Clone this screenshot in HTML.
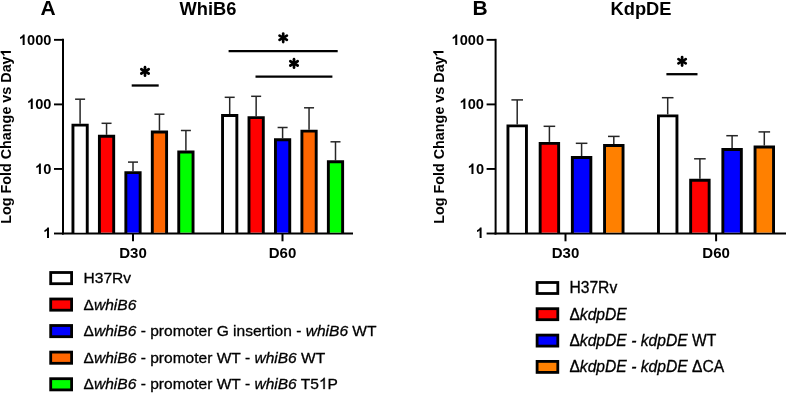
<!DOCTYPE html><html><head><meta charset="utf-8"><style>html,body{margin:0;padding:0;background:#fff;}svg{display:block;will-change:transform}text{font-family:"Liberation Sans",sans-serif}.tk{font-size:14.6px;font-weight:bold}.xl{font-size:15.0px;font-weight:bold}.yl{font-size:14.35px;font-weight:bold}.ti{font-size:18.3px;font-weight:bold}.pl{font-size:21px;font-weight:bold}.lg{font-size:15.55px;stroke:#000;stroke-width:0.3px}</style></head><body>
<svg width="786" height="393" viewBox="0 0 786 393">
<rect width="786" height="393" fill="#fff"/>
<text x="40.6" y="15.0" class="pl">A</text>
<text x="208" y="14.5" text-anchor="middle" class="ti">WhiB6</text>
<text x="472.4" y="15.0" class="pl">B</text>
<text x="641" y="14.6" text-anchor="middle" class="ti">KdpDE</text>
<line x1="63" y1="38.85" x2="63" y2="234.5" stroke="#000" stroke-width="2"/>
<line x1="54" y1="39.85" x2="63" y2="39.85" stroke="#000" stroke-width="1.9"/>
<text x="51.40" y="45" text-anchor="end" class="tk">&#x2007;000</text>
<path transform="translate(19.23,45.00) scale(0.007129,-0.007129)" d="M760 0H479V1059Q325 915 117 846V1101Q226 1137 354 1236T530 1466H760Z"/>
<line x1="54" y1="104.40" x2="63" y2="104.40" stroke="#000" stroke-width="1.9"/>
<text x="51.40" y="109" text-anchor="end" class="tk">&#x2007;00</text>
<path transform="translate(27.35,109.00) scale(0.007129,-0.007129)" d="M760 0H479V1059Q325 915 117 846V1101Q226 1137 354 1236T530 1466H760Z"/>
<line x1="54" y1="168.95" x2="63" y2="168.95" stroke="#000" stroke-width="1.9"/>
<text x="51.40" y="174" text-anchor="end" class="tk">&#x2007;0</text>
<path transform="translate(35.46,174.00) scale(0.007129,-0.007129)" d="M760 0H479V1059Q325 915 117 846V1101Q226 1137 354 1236T530 1466H760Z"/>
<line x1="54" y1="233.50" x2="63" y2="233.50" stroke="#000" stroke-width="1.9"/>
<text x="51.40" y="238" text-anchor="end" class="tk">&#x2007;</text>
<path transform="translate(43.58,238.00) scale(0.007129,-0.007129)" d="M760 0H479V1059Q325 915 117 846V1101Q226 1137 354 1236T530 1466H760Z"/>
<line x1="62" y1="233.5" x2="353" y2="233.5" stroke="#000" stroke-width="2"/>
<line x1="133" y1="233.5" x2="133" y2="241.3" stroke="#000" stroke-width="2"/>
<text x="133" y="257.9" text-anchor="middle" class="xl">D30</text>
<line x1="282.5" y1="233.5" x2="282.5" y2="241.3" stroke="#000" stroke-width="2"/>
<text x="282.5" y="257.9" text-anchor="middle" class="xl">D60</text>
<g transform="translate(10.9,136.1) rotate(-90)">
<text x="0" y="0" text-anchor="middle" class="yl">Log Fold Change vs Day&#x2007;</text>
<path transform="translate(79.73,0.00) scale(0.007007,-0.007007)" d="M760 0H479V1059Q325 915 117 846V1101Q226 1137 354 1236T530 1466H760Z"/>
</g>
<line x1="80.10" y1="123.70" x2="80.10" y2="99.20" stroke="#262626" stroke-width="1.5"/>
<line x1="75.10" y1="99.20" x2="85.10" y2="99.20" stroke="#262626" stroke-width="1.5"/>
<path d="M72.95 232.50V125.15H87.25V232.50Z" fill="#ffffff" stroke="none"/>
<path d="M72.95 233.50V125.15H87.25V233.50" fill="none" stroke="#000" stroke-width="2.9"/>
<line x1="106.55" y1="134.80" x2="106.55" y2="123.30" stroke="#262626" stroke-width="1.5"/>
<line x1="101.55" y1="123.30" x2="111.55" y2="123.30" stroke="#262626" stroke-width="1.5"/>
<path d="M99.40 232.50V136.25H113.70V232.50Z" fill="#ff0000" stroke="none"/>
<path d="M99.40 233.50V136.25H113.70V233.50" fill="none" stroke="#000" stroke-width="2.9"/>
<line x1="133.00" y1="171.20" x2="133.00" y2="162.10" stroke="#262626" stroke-width="1.5"/>
<line x1="128.00" y1="162.10" x2="138.00" y2="162.10" stroke="#262626" stroke-width="1.5"/>
<path d="M125.85 232.50V172.65H140.15V232.50Z" fill="#0000ff" stroke="none"/>
<path d="M125.85 233.50V172.65H140.15V233.50" fill="none" stroke="#000" stroke-width="2.9"/>
<line x1="159.45" y1="130.50" x2="159.45" y2="114.20" stroke="#262626" stroke-width="1.5"/>
<line x1="154.45" y1="114.20" x2="164.45" y2="114.20" stroke="#262626" stroke-width="1.5"/>
<path d="M152.30 232.50V131.95H166.60V232.50Z" fill="#ff6600" stroke="none"/>
<path d="M152.30 233.50V131.95H166.60V233.50" fill="none" stroke="#000" stroke-width="2.9"/>
<line x1="185.90" y1="150.50" x2="185.90" y2="130.50" stroke="#262626" stroke-width="1.5"/>
<line x1="180.90" y1="130.50" x2="190.90" y2="130.50" stroke="#262626" stroke-width="1.5"/>
<path d="M178.75 232.50V151.95H193.05V232.50Z" fill="#00ff00" stroke="none"/>
<path d="M178.75 233.50V151.95H193.05V233.50" fill="none" stroke="#000" stroke-width="2.9"/>
<line x1="229.70" y1="114.10" x2="229.70" y2="97.30" stroke="#262626" stroke-width="1.5"/>
<line x1="224.70" y1="97.30" x2="234.70" y2="97.30" stroke="#262626" stroke-width="1.5"/>
<path d="M222.55 232.50V115.55H236.85V232.50Z" fill="#ffffff" stroke="none"/>
<path d="M222.55 233.50V115.55H236.85V233.50" fill="none" stroke="#000" stroke-width="2.9"/>
<line x1="256.15" y1="116.20" x2="256.15" y2="96.30" stroke="#262626" stroke-width="1.5"/>
<line x1="251.15" y1="96.30" x2="261.15" y2="96.30" stroke="#262626" stroke-width="1.5"/>
<path d="M249.00 232.50V117.65H263.30V232.50Z" fill="#ff0000" stroke="none"/>
<path d="M249.00 233.50V117.65H263.30V233.50" fill="none" stroke="#000" stroke-width="2.9"/>
<line x1="282.60" y1="138.30" x2="282.60" y2="127.50" stroke="#262626" stroke-width="1.5"/>
<line x1="277.60" y1="127.50" x2="287.60" y2="127.50" stroke="#262626" stroke-width="1.5"/>
<path d="M275.45 232.50V139.75H289.75V232.50Z" fill="#0000ff" stroke="none"/>
<path d="M275.45 233.50V139.75H289.75V233.50" fill="none" stroke="#000" stroke-width="2.9"/>
<line x1="309.05" y1="129.70" x2="309.05" y2="107.80" stroke="#262626" stroke-width="1.5"/>
<line x1="304.05" y1="107.80" x2="314.05" y2="107.80" stroke="#262626" stroke-width="1.5"/>
<path d="M301.90 232.50V131.15H316.20V232.50Z" fill="#ff6600" stroke="none"/>
<path d="M301.90 233.50V131.15H316.20V233.50" fill="none" stroke="#000" stroke-width="2.9"/>
<line x1="335.50" y1="160.30" x2="335.50" y2="141.80" stroke="#262626" stroke-width="1.5"/>
<line x1="330.50" y1="141.80" x2="340.50" y2="141.80" stroke="#262626" stroke-width="1.5"/>
<path d="M328.35 232.50V161.75H342.65V232.50Z" fill="#00ff00" stroke="none"/>
<path d="M328.35 233.50V161.75H342.65V233.50" fill="none" stroke="#000" stroke-width="2.9"/>
<line x1="131.7" y1="85.5" x2="158.7" y2="85.5" stroke="#000" stroke-width="2.3"/>
<line x1="145.00" y1="67.15" x2="145.00" y2="75.65" stroke="#000" stroke-width="2.7" stroke-linecap="round"/>
<line x1="141.32" y1="69.28" x2="148.68" y2="73.53" stroke="#000" stroke-width="2.7" stroke-linecap="round"/>
<line x1="141.32" y1="73.53" x2="148.68" y2="69.28" stroke="#000" stroke-width="2.7" stroke-linecap="round"/>
<line x1="228.6" y1="51.1" x2="337.7" y2="51.1" stroke="#000" stroke-width="2.3"/>
<line x1="283.20" y1="33.55" x2="283.20" y2="42.05" stroke="#000" stroke-width="2.7" stroke-linecap="round"/>
<line x1="279.52" y1="35.67" x2="286.88" y2="39.92" stroke="#000" stroke-width="2.7" stroke-linecap="round"/>
<line x1="279.52" y1="39.92" x2="286.88" y2="35.67" stroke="#000" stroke-width="2.7" stroke-linecap="round"/>
<line x1="255.5" y1="76.6" x2="332.4" y2="76.6" stroke="#000" stroke-width="2.3"/>
<line x1="294.00" y1="59.15" x2="294.00" y2="67.65" stroke="#000" stroke-width="2.7" stroke-linecap="round"/>
<line x1="290.32" y1="61.27" x2="297.68" y2="65.52" stroke="#000" stroke-width="2.7" stroke-linecap="round"/>
<line x1="290.32" y1="65.52" x2="297.68" y2="61.27" stroke="#000" stroke-width="2.7" stroke-linecap="round"/>
<line x1="495.6" y1="38.85" x2="495.6" y2="234.5" stroke="#000" stroke-width="2"/>
<line x1="486.6" y1="39.85" x2="495.6" y2="39.85" stroke="#000" stroke-width="1.9"/>
<text x="484.00" y="45" text-anchor="end" class="tk">&#x2007;000</text>
<path transform="translate(451.83,45.00) scale(0.007129,-0.007129)" d="M760 0H479V1059Q325 915 117 846V1101Q226 1137 354 1236T530 1466H760Z"/>
<line x1="486.6" y1="104.40" x2="495.6" y2="104.40" stroke="#000" stroke-width="1.9"/>
<text x="484.00" y="109" text-anchor="end" class="tk">&#x2007;00</text>
<path transform="translate(459.95,109.00) scale(0.007129,-0.007129)" d="M760 0H479V1059Q325 915 117 846V1101Q226 1137 354 1236T530 1466H760Z"/>
<line x1="486.6" y1="168.95" x2="495.6" y2="168.95" stroke="#000" stroke-width="1.9"/>
<text x="484.00" y="174" text-anchor="end" class="tk">&#x2007;0</text>
<path transform="translate(468.06,174.00) scale(0.007129,-0.007129)" d="M760 0H479V1059Q325 915 117 846V1101Q226 1137 354 1236T530 1466H760Z"/>
<line x1="486.6" y1="233.50" x2="495.6" y2="233.50" stroke="#000" stroke-width="1.9"/>
<text x="484.00" y="238" text-anchor="end" class="tk">&#x2007;</text>
<path transform="translate(476.18,238.00) scale(0.007129,-0.007129)" d="M760 0H479V1059Q325 915 117 846V1101Q226 1137 354 1236T530 1466H760Z"/>
<line x1="494.6" y1="233.5" x2="786" y2="233.5" stroke="#000" stroke-width="2"/>
<line x1="565.5" y1="233.5" x2="565.5" y2="241.3" stroke="#000" stroke-width="2"/>
<text x="565.5" y="257.9" text-anchor="middle" class="xl">D30</text>
<line x1="716.1" y1="233.5" x2="716.1" y2="241.3" stroke="#000" stroke-width="2"/>
<text x="716.1" y="257.9" text-anchor="middle" class="xl">D60</text>
<g transform="translate(443.5,136.1) rotate(-90)">
<text x="0" y="0" text-anchor="middle" class="yl">Log Fold Change vs Day&#x2007;</text>
<path transform="translate(79.73,0.00) scale(0.007007,-0.007007)" d="M760 0H479V1059Q325 915 117 846V1101Q226 1137 354 1236T530 1466H760Z"/>
</g>
<line x1="517.20" y1="124.40" x2="517.20" y2="99.90" stroke="#262626" stroke-width="1.5"/>
<line x1="511.40" y1="99.90" x2="523.00" y2="99.90" stroke="#262626" stroke-width="1.5"/>
<path d="M507.95 232.50V125.85H526.45V232.50Z" fill="#ffffff" stroke="none"/>
<path d="M507.95 233.50V125.85H526.45V233.50" fill="none" stroke="#000" stroke-width="2.9"/>
<line x1="549.40" y1="141.90" x2="549.40" y2="126.30" stroke="#262626" stroke-width="1.5"/>
<line x1="543.60" y1="126.30" x2="555.20" y2="126.30" stroke="#262626" stroke-width="1.5"/>
<path d="M540.15 232.50V143.35H558.65V232.50Z" fill="#ff0000" stroke="none"/>
<path d="M540.15 233.50V143.35H558.65V233.50" fill="none" stroke="#000" stroke-width="2.9"/>
<line x1="581.60" y1="156.00" x2="581.60" y2="143.30" stroke="#262626" stroke-width="1.5"/>
<line x1="575.80" y1="143.30" x2="587.40" y2="143.30" stroke="#262626" stroke-width="1.5"/>
<path d="M572.35 232.50V157.45H590.85V232.50Z" fill="#0000ff" stroke="none"/>
<path d="M572.35 233.50V157.45H590.85V233.50" fill="none" stroke="#000" stroke-width="2.9"/>
<line x1="613.80" y1="144.10" x2="613.80" y2="136.40" stroke="#262626" stroke-width="1.5"/>
<line x1="608.00" y1="136.40" x2="619.60" y2="136.40" stroke="#262626" stroke-width="1.5"/>
<path d="M604.55 232.50V145.55H623.05V232.50Z" fill="#ff8000" stroke="none"/>
<path d="M604.55 233.50V145.55H623.05V233.50" fill="none" stroke="#000" stroke-width="2.9"/>
<line x1="667.70" y1="114.40" x2="667.70" y2="97.70" stroke="#262626" stroke-width="1.5"/>
<line x1="661.90" y1="97.70" x2="673.50" y2="97.70" stroke="#262626" stroke-width="1.5"/>
<path d="M658.45 232.50V115.85H676.95V232.50Z" fill="#ffffff" stroke="none"/>
<path d="M658.45 233.50V115.85H676.95V233.50" fill="none" stroke="#000" stroke-width="2.9"/>
<line x1="699.90" y1="178.80" x2="699.90" y2="158.80" stroke="#262626" stroke-width="1.5"/>
<line x1="694.10" y1="158.80" x2="705.70" y2="158.80" stroke="#262626" stroke-width="1.5"/>
<path d="M690.65 232.50V180.25H709.15V232.50Z" fill="#ff0000" stroke="none"/>
<path d="M690.65 233.50V180.25H709.15V233.50" fill="none" stroke="#000" stroke-width="2.9"/>
<line x1="732.10" y1="148.00" x2="732.10" y2="135.70" stroke="#262626" stroke-width="1.5"/>
<line x1="726.30" y1="135.70" x2="737.90" y2="135.70" stroke="#262626" stroke-width="1.5"/>
<path d="M722.85 232.50V149.45H741.35V232.50Z" fill="#0000ff" stroke="none"/>
<path d="M722.85 233.50V149.45H741.35V233.50" fill="none" stroke="#000" stroke-width="2.9"/>
<line x1="764.30" y1="145.50" x2="764.30" y2="131.90" stroke="#262626" stroke-width="1.5"/>
<line x1="758.50" y1="131.90" x2="770.10" y2="131.90" stroke="#262626" stroke-width="1.5"/>
<path d="M755.05 232.50V146.95H773.55V232.50Z" fill="#ff8000" stroke="none"/>
<path d="M755.05 233.50V146.95H773.55V233.50" fill="none" stroke="#000" stroke-width="2.9"/>
<line x1="666.4" y1="74.2" x2="697.5" y2="74.2" stroke="#000" stroke-width="2.3"/>
<line x1="682.10" y1="57.05" x2="682.10" y2="65.55" stroke="#000" stroke-width="2.7" stroke-linecap="round"/>
<line x1="678.42" y1="59.17" x2="685.78" y2="63.42" stroke="#000" stroke-width="2.7" stroke-linecap="round"/>
<line x1="678.42" y1="63.42" x2="685.78" y2="59.17" stroke="#000" stroke-width="2.7" stroke-linecap="round"/>
<rect x="50.70" y="272.50" width="20.90" height="11.20" fill="#ffffff" stroke="#000" stroke-width="2.8"/>
<text x="83.6" y="283" class="lg">H37Rv</text>
<rect x="50.70" y="299.00" width="20.90" height="11.20" fill="#ff0000" stroke="#000" stroke-width="2.8"/>
<text x="83.6" y="310" class="lg">Δ<tspan font-style="italic">whiB6</tspan></text>
<rect x="50.70" y="325.50" width="20.90" height="11.20" fill="#0000ff" stroke="#000" stroke-width="2.8"/>
<text x="83.6" y="336" class="lg">Δ<tspan font-style="italic">whiB6</tspan> - promoter G insertion - <tspan font-style="italic">whiB6</tspan> WT</text>
<rect x="50.70" y="352.10" width="20.90" height="11.20" fill="#ff6600" stroke="#000" stroke-width="2.8"/>
<text x="83.6" y="363" class="lg">Δ<tspan font-style="italic">whiB6</tspan> - promoter WT - <tspan font-style="italic">whiB6</tspan> WT</text>
<rect x="50.70" y="378.70" width="20.90" height="11.20" fill="#00ff00" stroke="#000" stroke-width="2.8"/>
<text x="83.6" y="389" class="lg">Δ<tspan font-style="italic">whiB6</tspan> - promoter WT - <tspan font-style="italic">whiB6</tspan> T5&#x2007;P</text>
<path transform="translate(318.96,389.00) scale(0.007593,-0.007593)" d="M763 0H583V1147Q518 1085 412.5 1023T223 930V1104Q373 1175 485.5 1276T645 1472H763V0Z" stroke="#000" stroke-width="39.5"/>
<rect x="537.10" y="282.50" width="20.70" height="11.00" fill="#ffffff" stroke="#000" stroke-width="2.8"/>
<text x="569.4" y="293" class="lg" style="font-size:15.65px">H37Rv</text>
<rect x="537.10" y="308.70" width="20.70" height="11.00" fill="#ff0000" stroke="#000" stroke-width="2.8"/>
<text x="569.4" y="320" class="lg" style="font-size:15.65px">Δ<tspan font-style="italic">kdpDE</tspan></text>
<rect x="537.10" y="335.10" width="20.70" height="11.00" fill="#0000ff" stroke="#000" stroke-width="2.8"/>
<text x="569.4" y="346" class="lg" style="font-size:15.65px">Δ<tspan font-style="italic">kdpDE - kdpDE</tspan> WT</text>
<rect x="537.10" y="361.40" width="20.70" height="11.00" fill="#ff8000" stroke="#000" stroke-width="2.8"/>
<text x="569.4" y="372" class="lg" style="font-size:15.65px">Δ<tspan font-style="italic">kdpDE - kdpDE</tspan> ΔCA</text>
</svg></body></html>
